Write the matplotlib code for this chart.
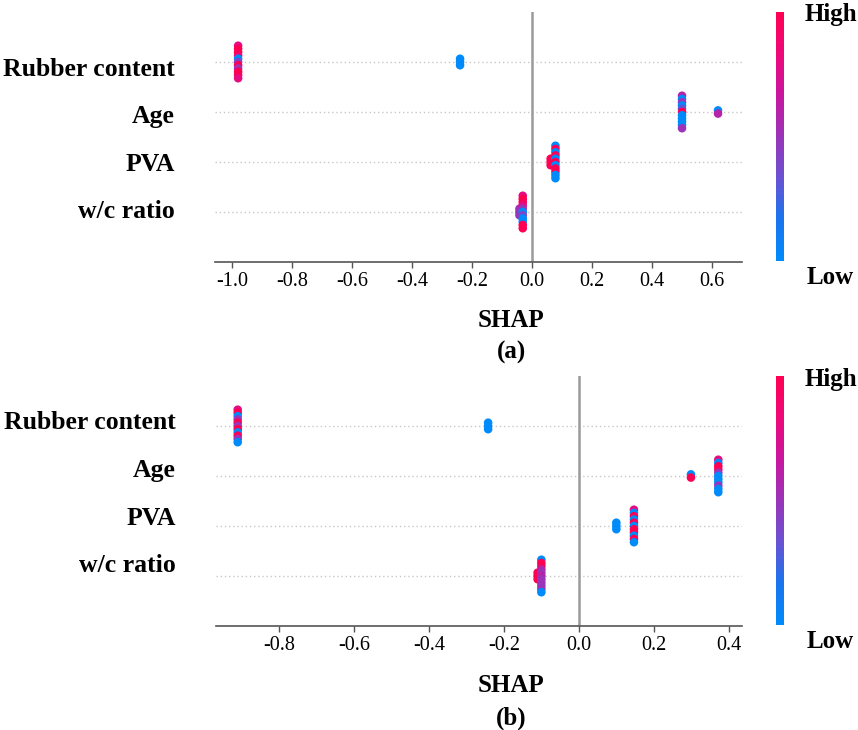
import numpy as np
import matplotlib
matplotlib.use("Agg")
import matplotlib.pyplot as plt
from matplotlib.colors import LinearSegmentedColormap
from matplotlib.cm import ScalarMappable
from matplotlib.transforms import ScaledTranslation, blended_transform_factory

plt.rcParams['font.family'] = ['Liberation Serif', 'DejaVu Serif']
plt.rcParams['axes.unicode_minus'] = False

features = ["Rubber content", "Age", "PVA", "w/c ratio"]

# panel (a): SHAP value of each stack, and feature values (0 low .. 1 high) of its points, top to bottom
a_x = [[-0.24, -0.98], [0.62, 0.50], [0.062, 0.078], [-0.042, -0.031]]
a_c = [
    [[0, 0, 0], [0.8, 1, 1, 0.9, 0, 0.4, 1, 0.5, 1, 1, 0.8]],
    [[0, 0.6], [0.6, 0, 0.5, 0, 0.3, 1, 0, 0, 0, 0, 0.5]],
    [[1, 1, 1], [0, 1, 0, 1, 0, 1, 0, 1, 1, 0, 0]],
    [[0.5, 0.5, 0.5], [0.8, 1, 1, 0.8, 0.5, 0, 0.4, 0, 0, 1, 1]],
]
a_ticks = [-1.0, -0.8, -0.6, -0.4, -0.2, 0.0, 0.2, 0.4, 0.6]

# panel (b)
b_x = [[-0.242, -0.91], [0.299, 0.372], [0.10, 0.147], [-0.11, -0.10]]
b_c = [
    [[0, 0, 0], [0.8, 1, 0, 0.5, 1, 0.5, 1, 0, 1, 0.5, 0]],
    [[0, 1], [0.8, 0, 1, 1, 0.5, 0, 0, 0, 0.5, 0, 0]],
    [[0, 0, 0], [0.8, 0, 1, 0, 1, 0, 1, 1, 0, 1, 0]],
    [[1, 1, 1], [0, 1, 1, 0.6, 0.5, 0.6, 0.5, 0.5, 0.5, 0.5, 0]],
]
b_ticks = [-0.8, -0.6, -0.4, -0.2, 0.0, 0.2, 0.4]

cmap = LinearSegmentedColormap.from_list(
    "shap_rb", ["#008bfb", "#1a74ee", "#6a52d2", "#9a34b8", "#c8169e", "#ee0878", "#ff0052"])

STEP = 0.065  # vertical spacing of stacked points


def draw_panel(ax, xs, cs, xlim, ticks, label_shift):
    n = len(features)
    lab_tr = blended_transform_factory(ax.transAxes, ax.transData)
    for i, (fx, fc) in enumerate(zip(xs, cs)):
        row = n - 1 - i
        ax.axhline(row, color="#c8c8c8", lw=1, dashes=(1, 2), zorder=0)
        for x, vals in zip(fx, fc):
            k = len(vals)
            ys = row + (np.arange(k)[::-1] - (k - 1) / 2) * STEP
            ax.scatter(np.full(k, x), ys, c=vals, cmap=cmap, vmin=0, vmax=1,
                       s=38, linewidths=0, zorder=3)
        # feature name, nudged off the row line as in the original
        shift = ScaledTranslation(-0.40, -label_shift[i] / 100, fig.dpi_scale_trans)
        ax.text(0, row, features[i], transform=lab_tr + shift, ha="right", va="center",
                fontsize=18.5, fontweight="bold")
    ax.axvline(0, color="#9a9a9a", lw=1.8, zorder=1)
    ax.set_xlim(*xlim)
    ax.set_ylim(-1, n)
    ax.set_xticks(ticks)
    ax.set_xticklabels(["%.1f" % t for t in ticks])
    ax.set_yticks([])
    for s in ["top", "right", "left"]:
        ax.spines[s].set_visible(False)
    ax.spines["bottom"].set_color("#555555")
    ax.spines["bottom"].set_linewidth(1.2)
    ax.tick_params(axis="x", length=4, width=1, color="#555555", labelsize=14.5, pad=3)


def draw_colorbar(cax, top_y, low_y):
    cb = fig.colorbar(ScalarMappable(cmap=cmap), cax=cax)
    cb.set_ticks([])
    cb.outline.set_visible(False)
    fig.text(0.968, top_y, "High", ha="center", va="center", fontsize=18, fontweight="bold")
    fig.text(0.968, low_y, "Low", ha="center", va="center", fontsize=18, fontweight="bold")


fig = plt.figure(figsize=(8.58, 7.30), dpi=100)

ax1 = fig.add_axes([0.2506, 0.6411, 0.6142, 0.3425])
draw_panel(ax1, a_x, a_c, (-1.057, 0.70), a_ticks, [8, 5, 3, 0])
cax1 = fig.add_axes([0.9044, 0.6425, 0.0093, 0.3411])
draw_colorbar(cax1, 0.9795, 0.6205)
fig.text(0.5956, 0.5616, "SHAP", ha="center", va="center", fontsize=18, fontweight="bold")
fig.text(0.5956, 0.5178, "(a)", ha="center", va="center", fontsize=18, fontweight="bold")

ax2 = fig.add_axes([0.2517, 0.1425, 0.613, 0.3425])
draw_panel(ax2, b_x, b_c, (-0.968, 0.435), b_ticks, [-3, -5, -7, -10])
cax2 = fig.add_axes([0.9044, 0.1439, 0.0093, 0.3411])
draw_colorbar(cax2, 0.4808, 0.1219)
fig.text(0.5956, 0.0603, "SHAP", ha="center", va="center", fontsize=18, fontweight="bold")
fig.text(0.5956, 0.0164, "(b)", ha="center", va="center", fontsize=18, fontweight="bold")

fig.savefig("out.png", dpi=100)
